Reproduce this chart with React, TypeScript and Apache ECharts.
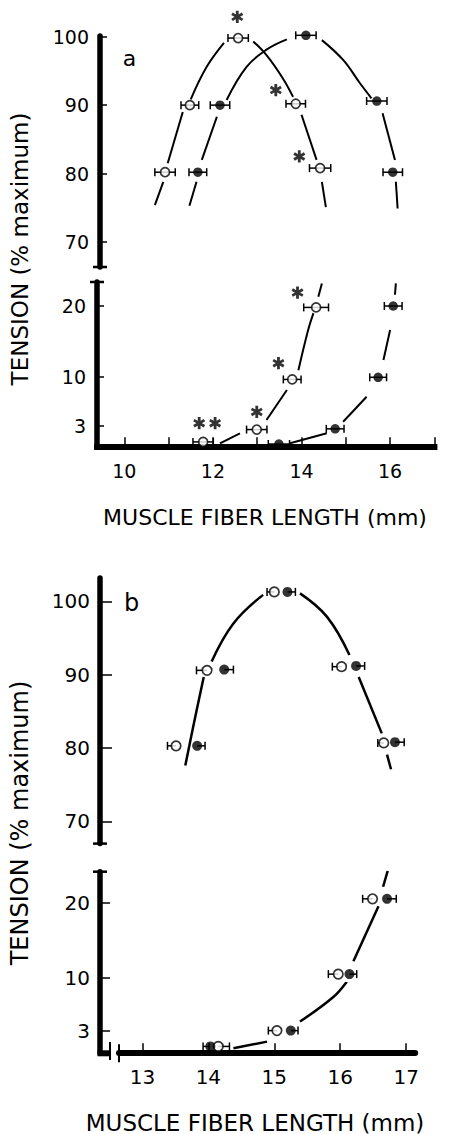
import React, { useEffect, useRef } from "react";
import * as echarts from "echarts";

const FONT = "DejaVu Sans";

// ---------- Tick values ----------
const aXTicks = [10, 11, 12, 13, 14, 15, 16, 17];
const aXLabels = [10, 12, 14, 16];
const bXTicks = [13, 14, 15, 16, 17];
const pctTicks = [70, 80, 90, 100];
const lowTicks = [3, 10, 20];

// ---------- Panel a : points [x mm, tension, err-, err+] ----------
const aUpperOpen = [
  [12.57, 99.8, 0.23, 0.23],
  [11.48, 90.0, 0.2, 0.2],
  [10.92, 80.2, 0.23, 0.23],
  [13.87, 90.2, 0.22, 0.22],
  [14.42, 80.8, 0.24, 0.24],
];
const aUpperFilled = [
  [14.1, 100.2, 0.23, 0.23],
  [12.16, 90.0, 0.22, 0.22],
  [11.66, 80.2, 0.2, 0.2],
  [15.7, 90.6, 0.23, 0.23],
  [16.06, 80.2, 0.22, 0.22],
];
const aLowerOpen = [
  [14.33, 19.8, 0.28, 0.28],
  [13.79, 9.6, 0.2, 0.2],
  [12.99, 2.5, 0.23, 0.23],
  [11.78, 0.75, 0.23, 0.23],
];
const aLowerFilled = [
  [16.07, 20.0, 0.2, 0.2],
  [15.73, 9.9, 0.19, 0.19],
  [14.76, 2.6, 0.2, 0.2],
  [13.49, 0.45, 0.24, 0.24],
];
const aUpperStars = [
  [12.55, 102.9],
  [13.42, 92.2],
  [13.95, 82.5],
];
const aLowerStars = [
  [13.91, 21.9],
  [13.48, 11.9],
  [12.99, 5.0],
  [11.69, 3.4],
  [12.05, 3.4],
];
// fitted curves (segments)
const aUpperOpenCurve = [
  [[10.69, 75.4], [10.88, 78.8]],
  [[10.98, 81.5], [11.32, 89.0]],
  [[11.5, 90.85], [11.86, 95.6], [12.25, 99.1]],
  [[12.91, 99.3], [13.21, 97.3], [13.58, 93.9], [13.81, 91.2]],
  [[14.0, 88.6], [14.34, 82.0]],
  [[14.46, 78.8], [14.55, 75.1]],
];
const aUpperFilledCurve = [
  [[11.47, 75.3], [11.63, 78.8]],
  [[11.75, 82.0], [12.09, 88.3]],
  [[12.31, 90.75], [12.76, 95.6], [13.21, 98.1], [13.67, 99.6]],
  [[14.46, 99.5], [14.94, 96.6], [15.32, 93.2], [15.58, 91.0]],
  [[15.83, 88.8], [16.11, 82.0]],
  [[16.13, 78.8], [16.17, 74.9]],
];
const aLowerOpenCurve = [
  [[12.16, 0.55], [12.61, 1.97]],
  [[13.21, 3.85], [13.67, 8.1]],
  [[13.93, 10.9], [14.15, 16.6], [14.27, 19.0]],
  [[14.38, 21.3], [14.46, 23.2]],
];
const aLowerFilledCurve = [
  [[13.74, 0.55], [14.57, 1.97]],
  [[14.94, 3.6], [15.47, 7.15]],
  [[15.85, 12.35], [16.0, 16.6]],
  [[16.11, 21.6], [16.13, 23.2]],
];

// ---------- Panel b ----------
const bUpperOpen = [
  [15.0, 101.3, 0.11, 0],
  [13.98, 90.6, 0.16, 0],
  [13.51, 80.3, 0.13, 0],
  [16.02, 91.1, 0.14, 0],
  [16.66, 80.7, 0.09, 0],
];
const bUpperFilled = [
  [15.2, 101.3, 0, 0.12],
  [14.24, 90.7, 0, 0.14],
  [13.83, 80.3, 0, 0.12],
  [16.24, 91.2, 0, 0.13],
  [16.83, 80.8, 0, 0.14],
];
const bLowerOpen = [
  [16.49, 20.5, 0.15, 0],
  [15.97, 10.5, 0.15, 0],
  [15.04, 3.0, 0.13, 0],
  [14.15, 0.9, 0, 0.17],
];
const bLowerFilled = [
  [16.71, 20.5, 0, 0.14],
  [16.14, 10.5, 0, 0.11],
  [15.25, 3.0, 0, 0.11],
  [14.03, 0.9, 0.11, 0],
];
const bUpperCurve = [
  [[13.65, 77.6], [13.77, 82.9], [13.93, 89.7]],
  [[14.05, 91.8], [14.38, 97.0], [14.83, 100.9]],
  [[15.39, 101.1], [15.8, 97.9], [16.14, 92.7]],
  [[16.28, 89.7], [16.63, 82.0]],
  [[16.71, 79.1], [16.77, 77.1]],
];
const bLowerCurve = [
  [[14.38, 0.66], [14.89, 1.54]],
  [[15.39, 4.2], [15.9, 7.5], [16.1, 9.5]],
  [[16.2, 12.2], [16.58, 19.5]],
  [[16.65, 22.1], [16.72, 24.2]],
];

const STAR =
  "path://M-0.23,-1L0.23,-1L0.23,1L-0.23,1Z M0.751,-0.699L0.981,-0.301L-0.751,0.699L-0.981,0.301Z M0.981,0.301L0.751,0.699L-0.981,-0.301L-0.751,-0.699Z";

function errRender(params: any, api: any) {
  const x = api.value(0);
  const y = api.value(1);
  const el = api.value(2);
  const er = api.value(3);
  const c = api.coord([x, y]);
  const st = { stroke: "#000", lineWidth: 1.5 };
  const h = 4;
  const children: any[] = [];
  if (el > 0) {
    const p = api.coord([x - el, y]);
    children.push({ type: "line", shape: { x1: p[0], y1: c[1], x2: c[0], y2: c[1] }, style: st });
    children.push({ type: "line", shape: { x1: p[0], y1: c[1] - h, x2: p[0], y2: c[1] + h }, style: st });
  }
  if (er > 0) {
    const p = api.coord([x + er, y]);
    children.push({ type: "line", shape: { x1: c[0], y1: c[1], x2: p[0], y2: c[1] }, style: st });
    children.push({ type: "line", shape: { x1: p[0], y1: c[1] - h, x2: p[0], y2: c[1] + h }, style: st });
  }
  return { type: "group", children };
}

function curveSeries(segs: number[][][], idx: number, width: number) {
  return segs.map((seg) => ({
    type: "line",
    xAxisIndex: idx,
    yAxisIndex: idx,
    data: seg,
    smooth: 0.4,
    symbol: "none",
    lineStyle: { color: "#000", width },
    z: 2,
    silent: true,
  }));
}

function pointSeries(open: number[][], filled: number[][], idx: number, size: number) {
  return [
    {
      type: "custom",
      xAxisIndex: idx,
      yAxisIndex: idx,
      data: [...open, ...filled],
      encode: { x: 0, y: 1 },
      renderItem: errRender,
      z: 3,
      silent: true,
    },
    {
      type: "scatter",
      xAxisIndex: idx,
      yAxisIndex: idx,
      data: open.map((d) => [d[0], d[1]]),
      symbol: "circle",
      symbolSize: size - 0.5,
      itemStyle: { color: "#fff", borderColor: "#000", borderWidth: 1.7 },
      clip: false,
      z: 4,
      silent: true,
    },
    {
      type: "scatter",
      xAxisIndex: idx,
      yAxisIndex: idx,
      data: filled.map((d) => [d[0], d[1]]),
      symbol: "circle",
      symbolSize: size,
      itemStyle: { color: "#000" },
      clip: false,
      z: 4,
      silent: true,
    },
  ];
}

function starSeries(stars: number[][], idx: number) {
  return {
    type: "scatter",
    xAxisIndex: idx,
    yAxisIndex: idx,
    data: stars,
    symbol: STAR,
    symbolSize: [12, 12.2],
    itemStyle: { color: "#000" },
    clip: false,
    z: 4,
    silent: true,
  };
}

const labelStyle = (size: number, margin: number, values: number[]) => ({
  show: true,
  color: "#000",
  fontFamily: FONT,
  fontSize: size,
  margin,
  customValues: values,
});

function xAxisDef(grid: number, min: number, max: number, show: boolean, extra: any = {}) {
  return {
    type: "value",
    gridIndex: grid,
    min,
    max,
    show,
    splitLine: { show: false },
    axisLine: { show: true, onZero: false, lineStyle: { color: "#000", width: 6 }, ...(extra.axisLine || {}) },
    axisTick: { show: true, inside: true, length: 10, lineStyle: { color: "#000", width: 1.5 }, customValues: extra.ticks },
    axisLabel: labelStyle(extra.fontSize || 19, 14, extra.labels || []),
  };
}

function yAxisDef(grid: number, min: number, max: number, ticks: number[], sym: string[], tickLen: number, fontSize: number, margin: number, offset = 0) {
  return {
    type: "value",
    gridIndex: grid,
    min,
    max,
    offset,
    splitLine: { show: false },
    axisLine: {
      show: true,
      onZero: false,
      symbol: sym,
      symbolSize: [14, 2.5],
      lineStyle: { color: "#000", width: 5.5 },
    },
    axisTick: { show: true, inside: true, length: tickLen, lineStyle: { color: "#000", width: 1.5 }, customValues: ticks },
    axisLabel: labelStyle(fontSize, margin, ticks),
  };
}

const option: any = {
  animation: false,
  backgroundColor: "#fff",
  grid: [
    { left: 100, top: 36, width: 334.4, height: 231 },
    { left: 97, top: 282, width: 337.4, height: 165.2 },
    { left: 100, top: 578, width: 315.2, height: 265.6 },
    { left: 119, top: 871.7, width: 296.2, height: 181.5 },
  ],
  xAxis: [
    xAxisDef(0, 9.4515, 17, false),
    xAxisDef(1, 9.3837, 17, true, {
      ticks: aXTicks,
      labels: aXLabels,
      axisLine: { lineStyle: { color: "#000", width: 6, cap: "square" } },
    }),
    xAxisDef(2, 12.3566, 17.137, false),
    xAxisDef(3, 12.645, 17.137, true, {
      ticks: bXTicks,
      labels: bXTicks,
      fontSize: 20,
      axisLine: { symbol: ["rect", "none"], symbolSize: [18, 2] },
    }),
  ],
  yAxis: [
    yAxisDef(0, 66.35, 100.1, pctTicks, ["rect", "none"], 7, 19, 11),
    yAxisDef(1, 0, 23.4, lowTicks, ["none", "rect"], 7, 19, 11),
    yAxisDef(2, 66.96, 103.2, pctTicks, ["rect", "none"], 12, 20, 10),
    yAxisDef(3, 0, 24.1, lowTicks, ["none", "rect"], 10, 20, 10, 19),
  ],
  graphic: [
    {
      type: "text",
      x: 20,
      y: 249,
      rotation: Math.PI / 2,
      style: { text: "TENSION (% maximum)", font: `23px "${FONT}"`, fill: "#000", textAlign: "center", textVerticalAlign: "middle", align: "center", verticalAlign: "middle" },
    },
    {
      type: "text",
      x: 20,
      y: 823,
      rotation: Math.PI / 2,
      style: { text: "TENSION (% maximum)", font: `24px "${FONT}"`, fill: "#000", textAlign: "center", textVerticalAlign: "middle", align: "center", verticalAlign: "middle" },
    },
    {
      type: "text",
      x: 265,
      y: 517,
      style: { text: "MUSCLE FIBER LENGTH (mm)", font: `22px "${FONT}"`, fill: "#000", textAlign: "center", textVerticalAlign: "middle", align: "center", verticalAlign: "middle" },
    },
    {
      type: "text",
      x: 255,
      y: 1122.5,
      style: { text: "MUSCLE FIBER LENGTH (mm)", font: `23px "${FONT}"`, fill: "#000", textAlign: "center", textVerticalAlign: "middle", align: "center", verticalAlign: "middle" },
    },
    {
      type: "text",
      x: 129.5,
      y: 58.4,
      style: { text: "a", font: `22px "${FONT}"`, fill: "#000", textAlign: "center", textVerticalAlign: "middle", align: "center", verticalAlign: "middle" },
    },
    {
      type: "text",
      x: 131.7,
      y: 602.8,
      style: { text: "b", font: `24px "${FONT}"`, fill: "#000", textAlign: "center", textVerticalAlign: "middle", align: "center", verticalAlign: "middle" },
    },
    { type: "line", shape: { x1: 97.5, y1: 1053.3, x2: 110, y2: 1053.3 }, style: { stroke: "#000", lineWidth: 6 } },
    { type: "line", shape: { x1: 110, y1: 1042, x2: 110, y2: 1060 }, style: { stroke: "#000", lineWidth: 2 } },
  ],
  series: [
    ...curveSeries(aUpperOpenCurve, 0, 2),
    ...curveSeries(aUpperFilledCurve, 0, 2),
    ...curveSeries(aLowerOpenCurve, 1, 2),
    ...curveSeries(aLowerFilledCurve, 1, 2),
    ...curveSeries(bUpperCurve, 2, 2.5),
    ...curveSeries(bLowerCurve, 3, 2.5),
    ...pointSeries(aUpperOpen, aUpperFilled, 0, 9.5),
    ...pointSeries(aLowerOpen, aLowerFilled, 1, 9.5),
    ...pointSeries(bUpperOpen, bUpperFilled, 2, 10),
    ...pointSeries(bLowerOpen, bLowerFilled, 3, 10),
    starSeries(aUpperStars, 0),
    starSeries(aLowerStars, 1),
  ],
};

export default function App() {
  const ref = useRef<HTMLDivElement>(null);
  useEffect(() => {
    const chart = echarts.init(ref.current!, null, { renderer: "svg" });
    chart.setOption(option);
    return () => chart.dispose();
  }, []);
  return (
    <div
      ref={ref}
      style={{ position: "fixed", left: 0, top: 0, width: 456, height: 1134, background: "#fff" }}
    />
  );
}
